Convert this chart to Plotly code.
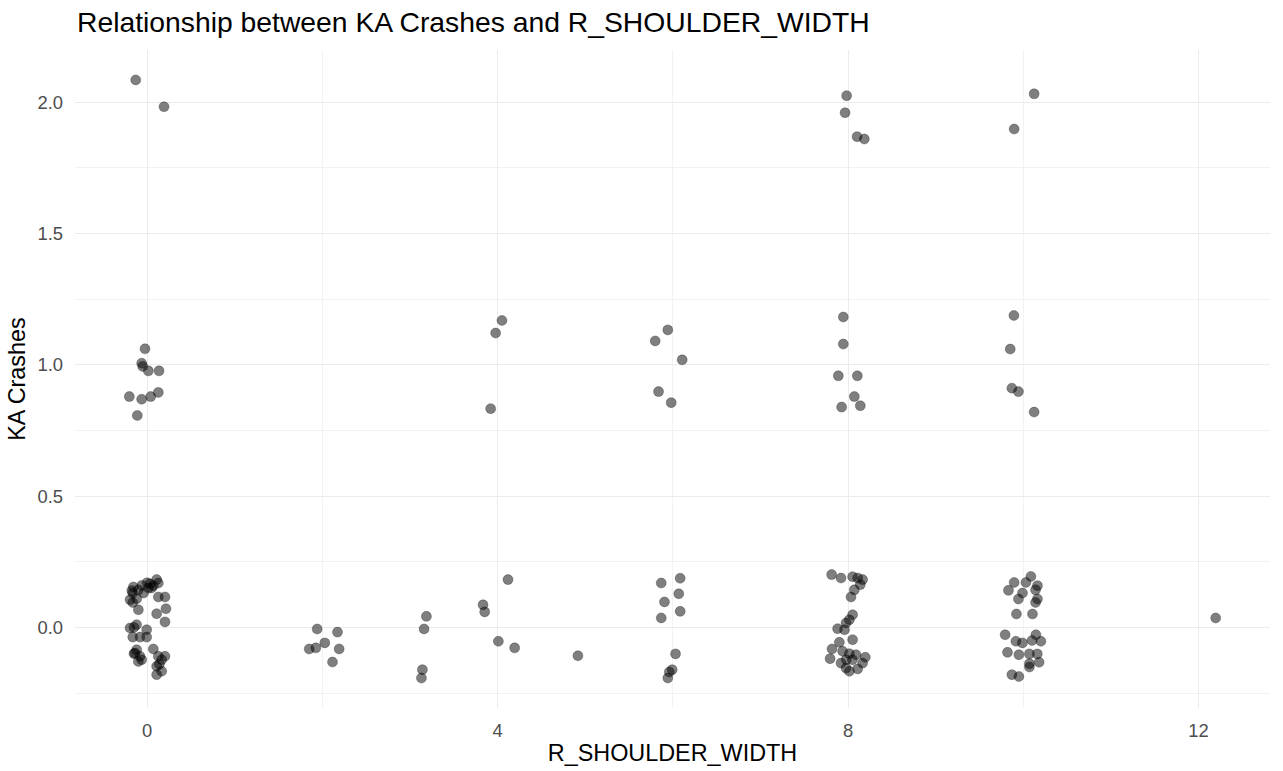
import plotly.graph_objects as go

# R_SHOULDER_WIDTH (jittered) and KA Crashes (jittered)
shoulder_width = [
    -0.157, -0.164, -0.100, -0.195, -0.164, -0.119, 0.033, 0.109, 0.128, 0.071, 0.014, -0.040,
    0.128, 0.204, 0.215, 0.109, -0.100, 0.204, -0.175, -0.060, 0.000, 0.050,
    -0.195, -0.120, -0.005, -0.164, -0.081, -0.005, -0.150,
    -0.119, -0.081, -0.138, 0.071, 0.128, 0.166, 0.204, 0.109, 0.166, 0.109, -0.062, -0.100, 0.140, -0.150,
    -0.024, -0.062, -0.050, 0.014, 0.136, -0.203, -0.062, 0.041, 0.128, -0.112, -0.130, 0.193,
    1.941, 2.173, 2.028, 1.850, 1.926, 2.192, 2.116,
    3.188, 3.161, 3.142, 3.131,
    4.119, 3.834, 3.853, 4.009, 4.195, 4.050, 3.978, 3.921,
    4.917,
    5.868, 6.084, 6.068, 5.905, 6.084, 5.868, 6.031, 5.993, 5.943, 5.960,
    5.943, 5.799, 6.107, 5.837, 5.982,
    7.813, 7.920, 8.052, 8.110, 8.166, 8.140, 8.072, 8.034, 8.052, 8.015, 7.977, 7.881, 7.960,
    8.052, 7.901, 7.817, 7.795, 7.938, 8.015, 8.091, 8.197, 8.166, 7.920, 7.977, 8.110, 8.015, 8.050, 7.980,
    7.946, 7.946, 7.889, 8.106, 8.072, 7.927, 8.140,
    7.984, 7.966, 8.103, 8.186,
    10.087, 9.896, 9.831, 10.030, 10.162, 10.140, 9.991, 9.945, 10.162, 10.140, 9.922, 10.105,
    9.793, 9.916, 9.990, 10.144, 10.201, 10.100, 9.820, 9.950, 10.070, 10.160, 10.181, 10.070, 10.070, 9.870, 9.950,
    9.893, 9.851, 9.870, 9.945, 10.124,
    10.124, 9.896,
    12.196,
]
ka_crashes = [
    0.154, 0.131, 0.143, 0.105, 0.095, 0.109, 0.166, 0.182, 0.169, 0.159, 0.150, 0.131,
    0.116, 0.116, 0.071, 0.052, 0.067, 0.021, 0.140, 0.160, 0.170, 0.150,
    -0.002, 0.010, -0.009, -0.037, -0.037, -0.037, 0.000,
    -0.085, -0.110, -0.098, -0.082, -0.110, -0.123, -0.110, -0.148, -0.167, -0.180, -0.123, -0.130, -0.140, -0.100,
    1.061, 1.006, 0.994, 0.977, 0.977, 0.879, 0.869, 0.879, 0.895, 0.807, 2.085, 1.983,
    -0.006, -0.018, -0.059, -0.082, -0.078, -0.082, -0.132,
    0.042, -0.006, -0.161, -0.193,
    0.182, 0.086, 0.059, -0.053, -0.078, 1.169, 1.121, 0.833,
    -0.108,
    0.169, 0.187, 0.128, 0.097, 0.061, 0.036, -0.101, -0.161, -0.193, -0.170,
    1.133, 1.091, 1.019, 0.898, 0.856,
    0.201, 0.188, 0.193, 0.188, 0.182, 0.163, 0.143, 0.116, 0.048, 0.029, 0.017, -0.005, -0.009,
    -0.047, -0.057, -0.082, -0.119, -0.091, -0.100, -0.104, -0.114, -0.136, -0.136, -0.155, -0.158, -0.167, -0.123, -0.123,
    1.182, 1.079, 0.958, 0.958, 0.879, 0.839, 0.844,
    2.025, 1.960, 1.869, 1.860,
    0.194, 0.171, 0.141, 0.171, 0.159, 0.143, 0.131, 0.108, 0.108, 0.095, 0.051, 0.051,
    -0.028, -0.053, -0.059, -0.028, -0.053, -0.050, -0.095, -0.104, -0.101, -0.101, -0.133, -0.151, -0.138, -0.180, -0.187,
    1.188, 1.060, 0.911, 0.898, 0.820,
    2.032, 1.898,
    0.036,
]

x_ticks = [0, 4, 8, 12]
y_ticks = [0.0, 0.5, 1.0, 1.5, 2.0]
y_tick_labels = ["0.0", "0.5", "1.0", "1.5", "2.0"]

fig = go.Figure(
    go.Scatter(
        x=shoulder_width,
        y=ka_crashes,
        mode="markers",
        marker=dict(size=10, color="rgba(0,0,0,0.5)",
                    line=dict(width=1, color="rgba(0,0,0,0.25)")),
        hoverinfo="x+y",
    )
)

font_family = "Liberation Sans, Arial, sans-serif"
fig.update_layout(
    width=1283,
    height=771,
    paper_bgcolor="white",
    plot_bgcolor="white",
    margin=dict(l=75, r=13, t=50, b=63, autoexpand=False),
    showlegend=False,
    font=dict(family=font_family),
    title=dict(
        text="Relationship between KA Crashes and R_SHOULDER_WIDTH",
        x=77 / 1283, xref="container", xanchor="left",
        y=1 - 22 / 771, yref="container", yanchor="middle",
        font=dict(size=28.3, color="black", family=font_family),
    ),
    xaxis=dict(
        range=[-0.823, 12.816],
        tickvals=x_ticks,
        ticktext=[str(v) for v in x_ticks],
        showgrid=True, gridcolor="#EBEBEB", gridwidth=1.2,
        minor=dict(tickvals=[2, 6, 10], showgrid=True, gridcolor="#F2F2F2", gridwidth=1),
        zeroline=False, showline=False, ticks="",
        automargin=False,
        ticklabelstandoff=10,
        tickfont=dict(size=18.4, color="#4D4D4D"),
        title=dict(text="R_SHOULDER_WIDTH", font=dict(size=23.4, color="black"), standoff=4),
    ),
    yaxis=dict(
        range=[-0.307, 2.199],
        tickvals=y_ticks,
        ticktext=y_tick_labels,
        showgrid=True, gridcolor="#EBEBEB", gridwidth=1.2,
        minor=dict(tickvals=[-0.25, 0.25, 0.75, 1.25, 1.75], showgrid=True, gridcolor="#F2F2F2", gridwidth=1),
        zeroline=False, showline=False, ticks="",
        automargin=False,
        ticklabelstandoff=11,
        tickfont=dict(size=18.4, color="#4D4D4D"),
        title=dict(text="KA Crashes", font=dict(size=23.4, color="black"), standoff=5),
    ),
)

fig.write_html(
    "out.html",
    config={"displayModeBar": False},
    post_script="document.body.style.margin='0';document.body.style.overflow='hidden';",
)
